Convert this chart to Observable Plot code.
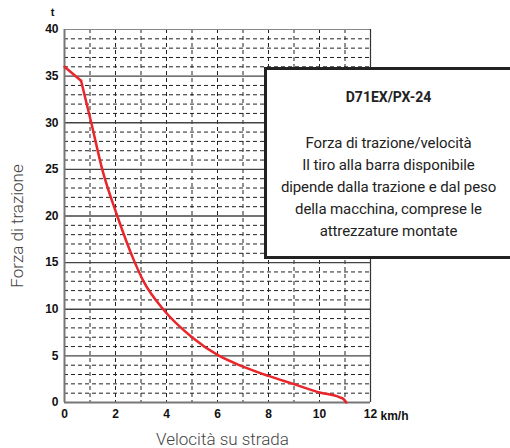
<!DOCTYPE html>
<html>
<head>
<meta charset="utf-8">
<script src="https://cdn.jsdelivr.net/npm/d3@7"></script>
<script src="https://cdn.jsdelivr.net/npm/@observablehq/plot@0.6"></script>
<style>
  html, body { margin: 0; padding: 0; background: #fff; overflow: hidden; }
  #wrap { position: relative; width: 510px; height: 448px; }
  #box {
    position: absolute; left: 264px; top: 67px; width: 243px; height: 186px;
    border: 3px solid #222; background: #fff;
    text-align: center; font-family: Roboto, "Liberation Sans", sans-serif; color: #222;
    box-sizing: content-box;
  }
  #box .ttl { font-weight: 700; font-size: 14px; line-height: 20px; margin-top: 17px; margin-bottom: 25px; }
  #box .txt { font-size: 15px; line-height: 22px; letter-spacing: -0.1px; }
</style>
</head>
<body>
<div id="wrap"></div>
<script>
// Data
const speed = [0, 0.65, 1.05, 1.48, 2.07, 2.76, 3.08, 3.87, 5, 6, 7, 8, 9, 10, 10.8, 10.95, 11.05];
const force = [36, 34.5, 30, 25, 20, 15, 13.1, 10, 7.0, 5.1, 3.85, 2.85, 1.97, 1.08, 0.55, 0.35, 0];
const xTicks = [0, 2, 4, 6, 8, 10, 12];
const yTicks = [0, 5, 10, 15, 20, 25, 30, 35, 40];
const boxTitle = "D71EX/PX-24";
const boxLines = [
  "Forza di trazione/velocità",
  "Il tiro alla barra disponibile",
  "dipende dalla trazione e dal peso",
  "della macchina, comprese le",
  "attrezzature montate"
];

const data = speed.map((s, i) => ({speed: s, force: force[i]}));
const head = data.slice(0, 2);
const tail = data.slice(1);
const yMinor = d3.range(1, 40).filter(v => v % 5 !== 0);
const yMajor = [5, 10, 15, 20, 25, 30, 35];
const xMinor = d3.range(1, 12);

const plot = Plot.plot({
  width: 510,
  height: 448,
  marginLeft: 64,
  marginRight: 140,
  marginTop: 29,
  marginBottom: 46,
  style: {fontFamily: "'Liberation Sans', Arial, sans-serif", fontSize: "12px", color: "#111", background: "#fff"},
  x: {domain: [0, 12], ticks: xTicks, label: null},
  y: {domain: [0, 40], ticks: yTicks, label: null},
  marks: [
    Plot.ruleY(yMinor, {stroke: "#222", strokeWidth: 1, strokeDasharray: "4,3"}),
    Plot.ruleX(xMinor, {stroke: "#222", strokeWidth: 1, strokeDasharray: "4,3"}),
    Plot.ruleY(yMajor, {stroke: "#444", strokeWidth: 1.3}),
    Plot.ruleY([40], {stroke: "#888", strokeWidth: 1.2}),
    Plot.ruleX([12], {stroke: "#333", strokeWidth: 1.2}),
    Plot.ruleX([0], {stroke: "#777", strokeWidth: 2}),
    Plot.ruleY([0], {stroke: "#777", strokeWidth: 2}),
    Plot.line(head, {x: "speed", y: "force", stroke: "#e8262b", strokeWidth: 2.5, curve: "linear"}),
    Plot.line(tail, {x: "speed", y: "force", stroke: "#e8262b", strokeWidth: 2.5, curve: "monotone-x"}),
    Plot.axisX({ticks: xTicks, tickSize: 0, tickPadding: 7, fontWeight: "bold", fontSize: 12, label: null}),
    Plot.text(["km/h"], {x: 12, y: 0, dx: 10, dy: 14, textAnchor: "start", fontWeight: "bold", fontSize: 12, fill: "#111"}),
    Plot.axisY({ticks: yTicks, tickSize: 0, tickPadding: 6, fontWeight: "bold", fontSize: 12, label: null}),
    Plot.text(["t"], {frameAnchor: "top-left", dx: -12, dy: -17, textAnchor: "middle", lineAnchor: "middle", fontWeight: "bold", fontSize: 11, fill: "#111"}),
    Plot.text(["Forza di trazione"], {frameAnchor: "left", dx: -47, dy: 10, rotate: -90, textAnchor: "middle", lineAnchor: "middle", fontFamily: "Roboto", fontWeight: 300, fontSize: 17, fill: "#444"}),
    Plot.text(["Velocità su strada"], {frameAnchor: "bottom", dx: 5, dy: 37, textAnchor: "middle", lineAnchor: "middle", fontFamily: "Roboto", fontWeight: 300, fontSize: 17, fill: "#444"})
  ]
});

const wrap = document.getElementById("wrap");
wrap.appendChild(plot);
const box = document.createElement("div");
box.id = "box";
const t = document.createElement("div");
t.className = "ttl";
t.textContent = boxTitle;
box.appendChild(t);
for (const l of boxLines) {
  const d = document.createElement("div");
  d.className = "txt";
  d.textContent = l;
  box.appendChild(d);
}
wrap.appendChild(box);
</script>
</body>
</html>
